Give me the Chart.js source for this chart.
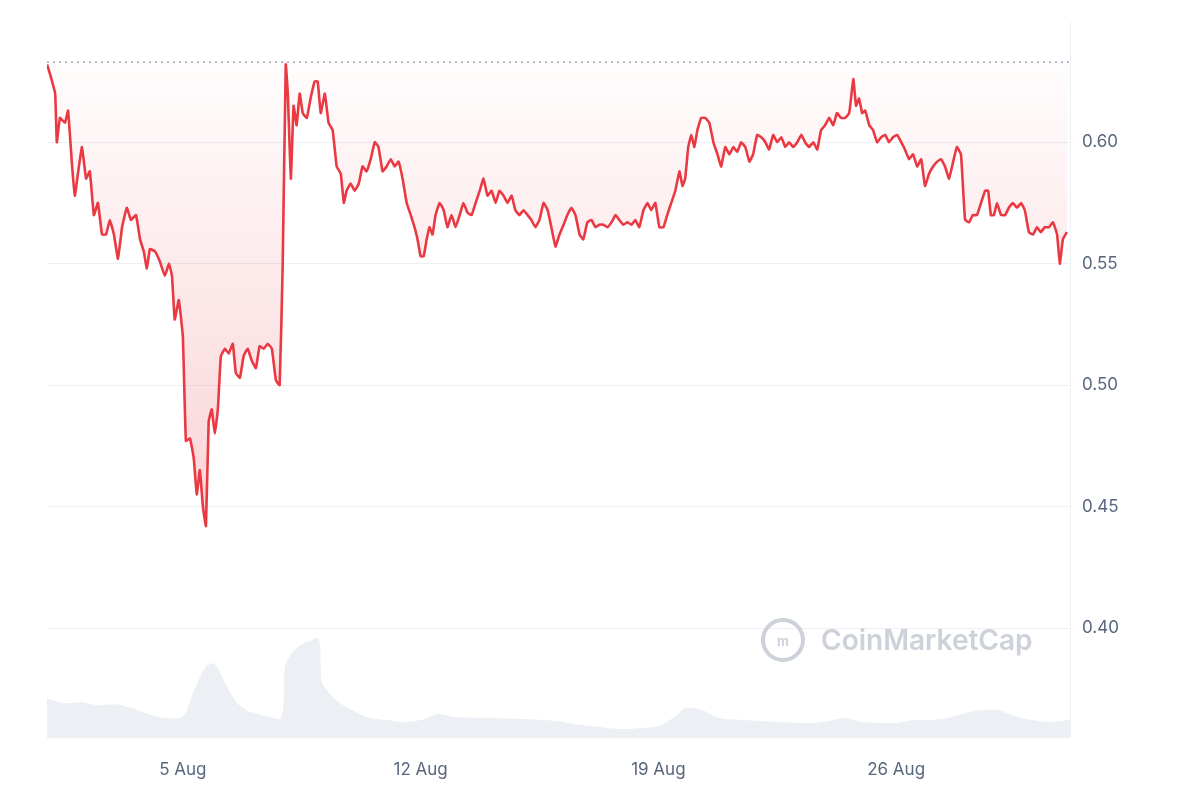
<!DOCTYPE html>
<html><head><meta charset="utf-8">
<script src="https://cdn.jsdelivr.net/npm/chart.js@4"></script>
<style>html,body{margin:0;padding:0;background:#fff}#w{width:1200px;height:800px}</style>
</head><body><div id="w"><canvas id="c"></canvas></div>
<script>
const priceDays=[1.00,1.09,1.24,1.29,1.38,1.53,1.62,1.74,1.82,1.91,2.03,2.15,2.26,2.38,2.50,2.62,2.74,2.85,2.97,3.09,3.21,3.35,3.47,3.62,3.74,3.85,3.94,4.03,4.18,4.32,4.47,4.59,4.68,4.76,4.88,5.00,5.09,5.21,5.32,5.41,5.50,5.59,5.68,5.76,5.85,5.94,6.03,6.12,6.24,6.35,6.47,6.56,6.68,6.79,6.91,7.03,7.15,7.26,7.38,7.50,7.62,7.74,7.85,7.94,8.03,8.09,8.18,8.26,8.35,8.44,8.53,8.65,8.76,8.88,8.97,9.06,9.18,9.29,9.41,9.53,9.65,9.74,9.82,9.94,10.06,10.18,10.29,10.41,10.53,10.65,10.76,10.88,11.00,11.12,11.24,11.35,11.47,11.59,11.71,11.82,11.91,12.00,12.09,12.18,12.26,12.35,12.44,12.56,12.68,12.79,12.91,13.03,13.15,13.26,13.38,13.50,13.62,13.74,13.85,13.97,14.09,14.21,14.32,14.44,14.56,14.68,14.79,14.91,15.03,15.15,15.26,15.38,15.50,15.62,15.74,15.85,15.97,16.09,16.21,16.32,16.44,16.56,16.68,16.79,16.91,17.03,17.15,17.26,17.38,17.50,17.62,17.74,17.85,17.97,18.09,18.21,18.32,18.44,18.56,18.68,18.79,18.91,19.03,19.15,19.26,19.38,19.50,19.62,19.71,19.79,19.88,19.97,20.06,20.15,20.26,20.38,20.50,20.62,20.74,20.85,20.97,21.09,21.21,21.32,21.44,21.56,21.68,21.79,21.91,22.03,22.15,22.26,22.38,22.50,22.62,22.74,22.85,22.97,23.09,23.21,23.32,23.44,23.56,23.68,23.79,23.91,24.03,24.15,24.26,24.38,24.50,24.62,24.74,24.82,24.91,25.00,25.09,25.21,25.32,25.44,25.56,25.68,25.79,25.91,26.03,26.15,26.26,26.38,26.50,26.62,26.74,26.85,26.97,27.09,27.21,27.32,27.44,27.56,27.68,27.79,27.91,28.03,28.15,28.26,28.38,28.50,28.62,28.71,28.79,28.88,28.97,29.09,29.21,29.32,29.44,29.56,29.68,29.79,29.91,30.03,30.15,30.26,30.38,30.50,30.62,30.74,30.82,30.91,31.03];
const prices=[0.632,0.628,0.62,0.60,0.61,0.608,0.613,0.59,0.578,0.587,0.598,0.585,0.588,0.57,0.575,0.562,0.562,0.568,0.562,0.552,0.565,0.573,0.568,0.57,0.56,0.555,0.548,0.556,0.555,0.551,0.545,0.55,0.545,0.527,0.535,0.52,0.477,0.478,0.47,0.455,0.465,0.45,0.442,0.485,0.49,0.48,0.49,0.512,0.515,0.513,0.517,0.505,0.503,0.512,0.515,0.51,0.507,0.516,0.515,0.517,0.515,0.502,0.50,0.55,0.632,0.62,0.585,0.615,0.607,0.62,0.612,0.61,0.618,0.625,0.625,0.612,0.62,0.608,0.605,0.59,0.587,0.575,0.58,0.583,0.58,0.583,0.59,0.588,0.593,0.60,0.598,0.588,0.59,0.593,0.59,0.592,0.585,0.575,0.57,0.565,0.56,0.553,0.553,0.56,0.565,0.562,0.57,0.575,0.572,0.565,0.57,0.565,0.57,0.575,0.571,0.57,0.575,0.58,0.585,0.578,0.58,0.575,0.58,0.578,0.575,0.578,0.572,0.57,0.572,0.57,0.568,0.565,0.568,0.575,0.572,0.565,0.557,0.562,0.566,0.57,0.573,0.57,0.562,0.56,0.567,0.568,0.565,0.566,0.566,0.565,0.567,0.57,0.568,0.566,0.567,0.566,0.568,0.565,0.572,0.575,0.572,0.575,0.565,0.565,0.57,0.575,0.58,0.588,0.582,0.585,0.598,0.603,0.598,0.605,0.61,0.61,0.608,0.60,0.595,0.59,0.598,0.595,0.598,0.596,0.60,0.598,0.592,0.595,0.603,0.602,0.60,0.597,0.603,0.60,0.602,0.598,0.60,0.598,0.60,0.603,0.60,0.598,0.60,0.597,0.605,0.607,0.61,0.607,0.612,0.61,0.61,0.612,0.626,0.615,0.618,0.612,0.613,0.607,0.605,0.60,0.602,0.603,0.60,0.602,0.603,0.60,0.597,0.593,0.595,0.59,0.593,0.582,0.587,0.59,0.592,0.593,0.59,0.585,0.592,0.598,0.595,0.568,0.567,0.57,0.57,0.575,0.58,0.58,0.57,0.57,0.575,0.57,0.57,0.573,0.575,0.573,0.575,0.572,0.563,0.562,0.565,0.563,0.565,0.565,0.567,0.562,0.55,0.56,0.563];
const volDays=[1.0,1.5,2.0,2.5,3.0,3.5,4.0,4.5,5.0,5.3,5.6,5.8,6.0,6.3,6.6,7.0,7.5,7.9,8.0,8.1,8.4,8.7,9.0,9.08,9.2,9.5,10.0,10.5,11.0,11.5,12.0,12.5,13.0,14.0,15.0,16.0,16.5,17.0,17.5,18.0,18.5,19.0,19.5,19.8,20.3,20.8,21.5,22.5,23.5,24.0,24.5,25.0,26.0,26.5,27.0,27.5,28.0,28.5,29.0,29.5,30.0,30.5,31.12];
const volumes=[40,35,36,33,34,30,24,20,22,45,68,75,72,52,35,26,22,20,70,80,92,97,100,58,50,38,28,20,18,16,18,24,21,20,19,17,14,12,10,9,10,12,22,30,28,20,18,16,15,17,20,16,15,18,18,20,25,28,28,22,18,16,18];
const yTicks=[0.40,0.45,0.50,0.55,0.60];
const refLevel=0.633;
const xTickDays=[5,12,19,26];

const ctx=document.getElementById('c');
const wm={id:'wm',beforeDatasetsDraw(ch){const c=ch.ctx;c.save();
 c.strokeStyle='#ccd1da';c.lineWidth=4;c.beginPath();c.arc(783,640,20,0,Math.PI*2);c.stroke();
 c.font='bold 13px Inter';c.fillStyle='#ccd1da';c.textAlign='center';c.textBaseline='middle';c.fillText('m',783,642);
 c.font='600 28px Inter';c.textAlign='left';c.fillText('CoinMarketCap',821,642);
 c.strokeStyle='#eceff3';c.lineWidth=1;c.beginPath();c.moveTo(ch.chartArea.right+0.5,ch.chartArea.top);c.lineTo(ch.chartArea.right+0.5,ch.chartArea.bottom);c.stroke();
 c.restore();}};
new Chart(ctx,{type:'line',
 data:{datasets:[
  {data:priceDays.map((d,i)=>({x:d,y:prices[i]})),yAxisID:'y',borderColor:'#ea3943',borderWidth:2.6,pointRadius:0,tension:0.1,
   fill:{value:refLevel},backgroundColor:(c)=>{const a=c.chart.chartArea;if(!a)return 'rgba(234,57,67,0.1)';const s=c.chart.scales.y;
    const g=c.chart.ctx.createLinearGradient(0,s.getPixelForValue(refLevel),0,s.getPixelForValue(0.44));g.addColorStop(0,'rgba(234,57,67,0.01)');g.addColorStop(1,'rgba(234,57,67,0.22)');return g;},order:1},
  {data:[{x:1,y:refLevel},{x:31.12,y:refLevel}],yAxisID:'y',borderColor:'#8a93a3',borderWidth:1.2,borderDash:[2,4],pointRadius:0,fill:false,order:2},
  {data:volDays.map((d,i)=>({x:d,y:volumes[i]})),yAxisID:'v',borderColor:'rgba(0,0,0,0)',backgroundColor:'#eceff3',fill:'origin',pointRadius:0,tension:0.3,order:3}
 ]},
 options:{responsive:true,maintainAspectRatio:false,animation:false,
  layout:{padding:{top:14,left:47,right:0,bottom:0}},
  plugins:{legend:{display:false},tooltip:{enabled:false}},
  scales:{
   x:{type:'linear',min:1,max:31.12,grid:{display:false},border:{display:false},
     afterBuildTicks:(a)=>{a.ticks=xTickDays.map(v=>({value:v}));},
     ticks:{callback:(v)=>v+' Aug',color:'#58667e',font:{family:'Inter',size:17},padding:14,maxRotation:0},
     afterFit:(a)=>{a.height=62;}},
   y:{position:'right',min:0.35473,max:0.6494,border:{display:false},grid:{color:'#eceff3',drawTicks:false},
     afterBuildTicks:(a)=>{a.ticks=yTicks.map(v=>({value:v}));},
     ticks:{callback:(v)=>v.toFixed(2),color:'#58667e',font:{family:'Inter',size:17},padding:12},
     afterFit:(a)=>{a.width=130;}},
   v:{display:false,min:0,max:720}
  }},
 plugins:[wm]});
</script></body></html>
